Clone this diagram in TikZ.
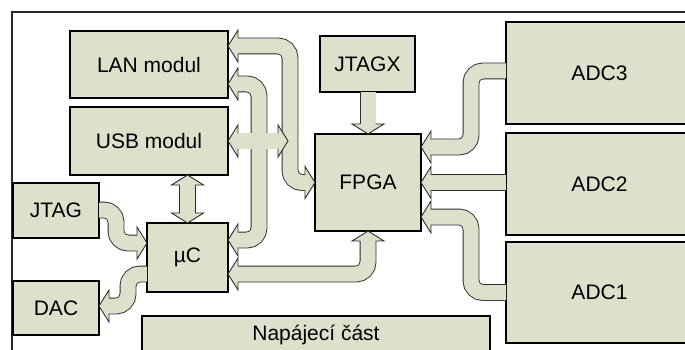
\documentclass[tikz,border=0pt]{standalone}
\usepackage{fontspec}
\setmainfont{Liberation Sans}
\usetikzlibrary{calc}
\definecolor{bfill}{RGB}{221,225,204}
\definecolor{bline}{RGB}{45,45,45}
\definecolor{framec}{RGB}{40,40,40}
\tikzset{
  box/.style={draw=black, line width=1.6pt, fill=bfill, inner sep=0pt, outer sep=0pt,
    font=\fontsize{21}{25}\selectfont},
  bus/.style={draw=bline, line width=0.9pt, double=bfill, double distance=15pt, rounded corners=12pt},
  bhead/.pic={
    \fill[bfill] (-10,-8) -- (-10,-16) -- (0,0) -- (-10,16) -- (-10,8) -- cycle;
    \draw[bline, line width=0.9pt, line join=miter] (-10,-7.6) -- (-10,-16) -- (0,0) -- (-10,16) -- (-10,7.6);
  }
}
\begin{document}
\begin{tikzpicture}[x=1pt,y=-1pt]
\clip (0,0) rectangle (685,350);
\fill[white] (0,0) rectangle (685,350);
% outer frame
\draw[framec, line width=1.2pt] (12,400) -- (12,12) -- (720,12);
% boxes
\node[box, minimum width=158pt, minimum height=67pt] (lan) at (149,64.5) {LAN modul};
\node[box, minimum width=158pt, minimum height=68pt] (usb) at (149,141) {USB modul};
\node[box, minimum width=86pt, minimum height=55pt] (jtag) at (56,210.5) {JTAG};
\node[box, minimum width=86pt, minimum height=54pt] (dac) at (56,308) {DAC};
\node[box, minimum width=81pt, minimum height=69pt] (uc) at (187.5,257.5) {µC};
\node[box, minimum width=348pt, minimum height=38pt] (nap) at (316,335) {Napájecí část};
\node[box, minimum width=95pt, minimum height=56pt] (jtagx) at (367.5,64) {JTAGX};
\node[box, minimum width=106pt, minimum height=97pt] (fpga) at (368,182.5) {FPGA};
\node[box, minimum width=187pt, minimum height=102pt] (adc3) at (599.5,73) {ADC3};
\node[box, minimum width=187pt, minimum height=102pt] (adc2) at (599.5,184) {ADC2};
\node[box, minimum width=187pt, minimum height=101pt] (adc1) at (599.5,292.5) {ADC1};
% bus x positions
\coordinate (xa) at (290,0);
\coordinate (xb) at (259,0);
\coordinate (xc) at (116,0);
\coordinate (xd) at (128,0);
\coordinate (xe) at (471,0);
% LAN <-> FPGA
\coordinate (t1) at ($(lan.north east)+(0,15)$);
\coordinate (t1b) at (fpga.west);
\draw[bus] ($(t1)+(9.5,0)$) -- (t1 -| xa) -- (xa |- t1b) -- ($(t1b)+(-9.5,0)$);
\pic[rotate=180] at (t1) {bhead};
\pic at (t1b) {bhead};
% LAN <-> uC
\coordinate (t2) at ($(lan.south east)+(0,-14)$);
\coordinate (t2b) at ($(uc.north east)+(0,17)$);
\draw[bus] ($(t2)+(9.5,0)$) -- (t2 -| xb) -- (xb |- t2b) -- ($(t2b)+(9.5,0)$);
\pic[rotate=180] at (t2) {bhead};
\pic[rotate=180] at (t2b) {bhead};
% USB <-> bus
\coordinate (t3) at (usb.east);
\coordinate (t3b) at ($(t3 -| xa)+(-2,0)$);
\draw[bus] ($(t3)+(9.5,0)$) -- ($(t3b)+(-9.5,0)$);
\pic[rotate=180] at (t3) {bhead};
\pic at (t3b) {bhead};
% USB <-> uC
\coordinate (t4) at (uc.north);
\coordinate (t4b) at (uc.north |- usb.south);
\draw[bus] ($(t4b)+(0,9.5)$) -- ($(t4)+(0,-9.5)$);
\pic[rotate=90] at (t4b) {bhead};
\pic[rotate=-90] at (t4) {bhead};
% JTAG -> uC
\coordinate (s5) at ($(jtag.east)+(0,-0.5)$);
\coordinate (t5) at ($(uc.west)+(0,-14.5)$);
\draw[bus] (s5) -- (s5 -| xc) -- (xc |- t5) -- ($(t5)+(-9.5,0)$);
\pic at (t5) {bhead};
% uC -> DAC
\coordinate (s6) at ($(uc.south west)+(0,-18)$);
\coordinate (t6) at ($(dac.east)+(0,-2)$);
\draw[bus] (s6) -- (s6 -| xd) -- (xd |- t6) -- ($(t6)+(9.5,0)$);
\pic[rotate=180] at (t6) {bhead};
% uC <-> FPGA
\coordinate (t7) at ($(uc.south east)+(0,-18)$);
\coordinate (t7b) at (fpga.south);
\draw[bus] ($(t7)+(9.5,0)$) -- (t7 -| t7b) -- ($(t7b)+(0,9.5)$);
\pic[rotate=180] at (t7) {bhead};
\pic[rotate=90] at (t7b) {bhead};
% JTAGX -> FPGA
\coordinate (t8) at (fpga.north);
\draw[bus] (fpga.north |- jtagx.south) -- ($(t8)+(0,-9.5)$);
\pic[rotate=-90] at (t8) {bhead};
% ADC3 -> FPGA
\coordinate (s9) at ($(adc3.west)+(0,-2)$);
\coordinate (t9) at ($(fpga.north east)+(0,13)$);
\draw[bus] (s9) -- (s9 -| xe) -- (xe |- t9) -- ($(t9)+(9.5,0)$);
\pic[rotate=180] at (t9) {bhead};
% ADC2 -> FPGA
\coordinate (t10) at (fpga.east);
\draw[bus] (t10 -| adc2.west) -- ($(t10)+(9.5,0)$);
\pic[rotate=180] at (t10) {bhead};
% ADC1 -> FPGA
\coordinate (s11) at (adc1.west);
\coordinate (t11) at ($(fpga.south east)+(0,-14)$);
\draw[bus] (s11) -- (s11 -| xe) -- (xe |- t11) -- ($(t11)+(9.5,0)$);
\pic[rotate=180] at (t11) {bhead};
\end{tikzpicture}
\end{document}
